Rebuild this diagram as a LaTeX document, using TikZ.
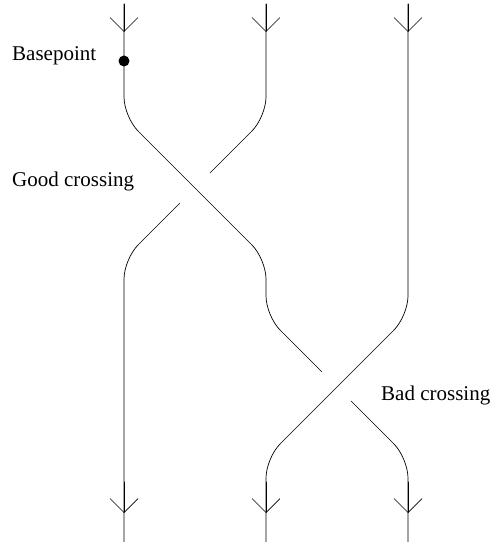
\documentclass[tikz,border=0pt]{standalone}
\usepackage{fontspec}
\setmainfont{Liberation Serif}
\usetikzlibrary{arrows.meta}

\begin{document}
\begin{tikzpicture}[line cap=round,line join=round,x=1pt,y=1pt,
		strand/.style={line width=0.7pt,rounded corners=20pt},
		tipdown/.style={line width=0.7pt,-{Straight Barb[length=14pt,width=28pt]}},
		lbl/.style={anchor=base west,inner sep=0pt,font=\fontsize{21}{25}\selectfont}]
		\useasboundingbox (0,0) rectangle (491,542);
		% strand from the basepoint, over at the good crossing, under at the bad one
		\draw [strand] (124,538)-- (124,425)-- (266,283)-- (266,226)-- (322,170);
		\draw [strand] (351,141)-- (408,84)-- (408,0);
		% middle strand, under at the good crossing
		\draw [strand] (266,538)-- (266,425)-- (210,369);
		\draw [strand] (180,339)-- (124,283)-- (124,0);
		% right strand, over at the bad crossing
		\draw [strand] (408,538)-- (408,226)-- (266,84)-- (266,0);
		% arrow heads
		\foreach \x in {124,266,408} {
			\draw [tipdown] (\x,538)-- (\x,510);
			\draw [tipdown] (\x,60)-- (\x,29);
		}
		\fill (124,481) circle (5.5pt);
		\draw (12,481) node[lbl] {Basepoint};
		\draw (12,355) node[lbl] {Good crossing};
		\draw (381,141) node[lbl] {Bad crossing};
\end{tikzpicture}
\end{document}
